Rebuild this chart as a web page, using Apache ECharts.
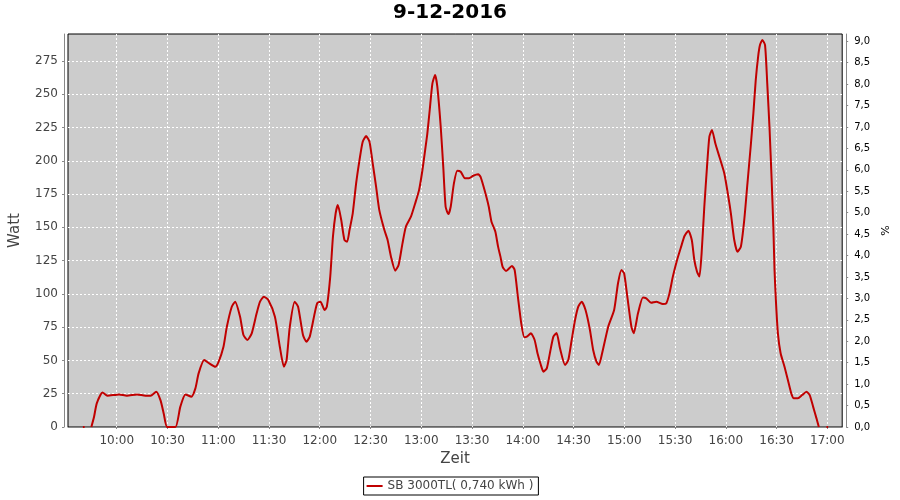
<!DOCTYPE html>
<html>
<head>
<meta charset="utf-8">
<script src="https://cdn.jsdelivr.net/npm/echarts@6/dist/echarts.min.js"></script>
<style>
html,body{margin:0;padding:0;background:#fff;}
#chart{width:900px;height:500px;}
</style>
</head>
<body>
<div id="chart"></div>
<script>
// ---- data ----
const chartTitle = '9-12-2016';
const seriesName = 'SB 3000TL( 0,740 kWh )';
// time of each reading, minutes since midnight
const times = [
  580, 581, 583, 585, 586.6, 588.2, 591.6, 594.5, 601.4, 606, 612, 617, 620, 623.3, 625.9, 627.8, 629.8,
  634.7, 637.6, 640.6, 644.1, 646.5, 648.4, 651.7, 654.7, 658.2, 660.2, 663.1, 665.1, 668, 670,
  672.9, 674.9, 677.2, 679.8, 682.7, 684.7, 687, 689.6, 693.5, 696.4, 698.8, 700.4, 702.3, 705.2,
  707.2, 710.1, 712.1, 714.1, 717, 718.5, 720.4, 722.9, 724.2, 726.2, 727.8, 729.4, 730.7, 732.7,
  734.6, 736.2, 737.6, 739.5, 741.5, 743.5, 745.4, 747.4, 749.4, 751.3, 753.3, 755.2, 758.2, 760.1,
  762.1, 764.6, 766.6, 768.9, 770.9, 773.9, 776.4, 778.7, 780.7, 782.3, 783.6, 785, 786.6, 788.2,
  789.5, 791.5, 793, 794.4, 796, 797.4, 799.3, 801.3, 803.3, 805.8, 808.2, 810.7, 813.6, 815,
  817.4, 819.9, 821.5, 823.8, 825.4, 826.8, 828.1, 830.1, 833.6, 835.2, 837.1, 839.1, 840.9, 842.4,
  844.8, 847, 848.7, 850.7, 852.2, 854.2, 856.2, 858.1, 860, 862, 865, 866.9, 868.9, 870.9,
  872.8, 874.8, 877.1, 879.7, 881.6, 883.6, 885, 886.9, 890.5, 894, 896.3, 898.3, 899.9, 901.8,
  904.2, 905.6, 908.1, 911, 913, 915.9, 918.9, 922.8, 924.8, 926.7, 928.7, 931.2, 933.6, 935.6,
  937.9, 939.9, 941.4, 943, 944.4, 945.7, 947.3, 948.9, 950.3, 951.8, 953.8, 956.2, 959.1, 961.5,
  963, 965, 966.9, 968.9, 970.9, 972.8, 974.7, 976.3, 977.7, 979.1, 980.2, 981.6, 983.2, 984.5,
  985.9, 987.1, 988.1, 988.8, 989.7, 990.8, 992.4, 994.7, 996.7, 998.7, 1000.2, 1002.6, 1005.1, 1007.7,
  1009.6, 1011.6, 1013.6, 1015, 1017, 1019.5, 1020.5
];
// power in Watt (null = no reading)
const watt = [
  0, 0, null, 0, 7.7, 17.8, 26, 23.5, 24.5, 23.5, 24.5, 23.5, 23.5, 26.5, 20, 10, 0,
  0, 15.3, 24.5, 22.8, 29, 40.3, 50.3, 47.8, 45.3, 49, 60.3, 75.4, 90.4, 94.2,
  82.9, 69.1, 65.4, 70.4, 85.4, 94.2, 97.9, 95.4, 82.9, 60.3, 45.3, 50.3, 75.4, 94.2,
  90.4, 69.1, 64.1, 67.9, 85.4, 93, 94.2, 87.9, 90.4, 113, 143, 160.6, 166.8, 155.5,
  140.5, 139.2, 148, 160.6, 183.1, 200.6, 214.4, 218.6, 214.4, 198.1, 180.6, 163, 148, 140.5,
  128, 117.5, 121.7, 138, 150.5, 158, 168, 178, 193.1, 208.1, 220.7, 238.2, 258.2, 264.5,
  255.7, 225.6, 195.6, 165.5, 160, 165.5, 183.1, 192.6, 191.8, 186.9, 186.9, 188.8, 189.9, 188.1,
  178, 165.5, 154.3, 146.7, 135.5, 128, 120.4, 117.2, 121, 118, 97.9, 77.9, 67.4, 67.9,
  70.4, 65.4, 55.4, 46.6, 41.6, 44.1, 56.6, 67.9, 70.6, 59.1, 46.6, 50.3, 65.4, 80.4,
  90.4, 94.2, 87.9, 72.9, 57.9, 49, 46.6, 55.4, 75.4, 87.9, 108, 118, 115.5, 97.9,
  75.4, 70.4, 85.4, 97.4, 96.7, 93.4, 94.2, 92.4, 92.9, 100.4, 113, 125.5, 135.5, 143.5,
  147.5, 140.5, 125.5, 116.7, 113, 130.5, 165.5, 195.6, 218.1, 223.2, 213.2, 203.1, 190.6, 173,
  160.6, 140.5, 131.7, 135.5, 155.5, 183.1, 210.6, 235.7, 260.7, 278.2, 287, 290.8, 287, 258.2,
  223.2, 185.6, 150.5, 118, 92.9, 70.4, 55.4, 45.3, 35.3, 25.3, 21.6, 21.6, 24, 26.5,
  24, 15.3, 6.5, 0, null, 0, 0
];
const xTickLabels = ['10:00','10:30','11:00','11:30','12:00','12:30','13:00','13:30','14:00','14:30','15:00','15:30','16:00','16:30','17:00'];
const wattTicks = [0, 25, 50, 75, 100, 125, 150, 175, 200, 225, 250, 275];
const pctTicks = [0, 0.5, 1, 1.5, 2, 2.5, 3, 3.5, 4, 4.5, 5, 5.5, 6, 6.5, 7, 7.5, 8, 8.5, 9];

// ---- build ----
const toMin = s => { const p = s.split(':'); return (+p[0]) * 60 + (+p[1]); };
const xTicks = xTickLabels.map(toMin);
const pad = (n) => (n < 10 ? '0' : '') + n;
const fmtTime = v => pad(Math.floor(Math.round(v) / 60)) + ':' + pad(Math.round(v) % 60);
const seriesData = times.map((t, i) => [t, watt[i] === null ? '-' : watt[i]]);

const FONT = 'DejaVu Sans';
const chart = echarts.init(document.getElementById('chart'), null, {renderer: 'canvas'});
chart.setOption({
  backgroundColor: '#ffffff',
  animation: false,
  textStyle: {fontFamily: FONT},
  title: {
    text: chartTitle, left: 'center', top: 3, padding: 0,
    textStyle: {fontFamily: FONT, fontSize: 20, fontWeight: 'bold', color: '#000'}
  },
  legend: {
    data: [seriesName], left: 'center', top: 477, padding: [3, 5, 3, 3],
    borderColor: '#000', borderWidth: 1, itemWidth: 16, itemHeight: 14, itemGap: 5,
    icon: 'path://M0,6L16,6L16,8L0,8Z',
    textStyle: {fontFamily: FONT, fontSize: 12, color: '#444'}
  },
  grid: {
    left: 67, right: 55, top: 34, bottom: 73,
    show: true, backgroundColor: '#cccccc', borderColor: '#000', borderWidth: 1
  },
  xAxis: {
    type: 'value', min: 571.2, max: 1028.8, offset: 4,
    name: 'Zeit', nameLocation: 'middle', nameGap: 20,
    nameTextStyle: {fontFamily: FONT, fontSize: 15, color: '#444'},
    axisLine: {show: true, lineStyle: {color: '#888', width: 1}},
    axisTick: {show: true, length: 2, customValues: xTicks, lineStyle: {color: '#888'}},
    axisLabel: {customValues: xTicks, margin: 4, formatter: fmtTime, fontFamily: FONT, fontSize: 12, color: '#444', showMinLabel: true, showMaxLabel: true},
    splitLine: {show: true, lineStyle: {color: '#ffffff', width: 1, type: [2, 2]}}
  },
  yAxis: [{
    type: 'value', min: 0, max: 295.3, position: 'left', offset: 4,
    name: 'Watt', nameLocation: 'middle', nameGap: 41,
    nameTextStyle: {fontFamily: FONT, fontSize: 15, color: '#444'},
    axisLine: {show: true, lineStyle: {color: '#888', width: 1}},
    axisTick: {show: true, length: 2, customValues: wattTicks, lineStyle: {color: '#888'}},
    axisLabel: {customValues: wattTicks, margin: 6, fontFamily: FONT, fontSize: 12, color: '#444'},
    splitLine: {show: true, lineStyle: {color: '#ffffff', width: 1, type: [2, 2]}}
  }, {
    type: 'value', min: 0, max: 9.17, position: 'right', offset: 4,
    name: '%', nameLocation: 'middle', nameGap: 32,
    nameTextStyle: {fontFamily: FONT, fontSize: 11, color: '#000'},
    axisLine: {show: true, lineStyle: {color: '#888', width: 1}},
    axisTick: {show: true, length: 2, customValues: pctTicks, lineStyle: {color: '#888'}},
    axisLabel: {customValues: pctTicks, margin: 8, fontFamily: FONT, fontSize: 10, color: '#000',
      formatter: v => v.toFixed(1).replace('.', ',')},
    splitLine: {show: false}
  }],
  series: [{
    name: seriesName, type: 'line', yAxisIndex: 0, data: seriesData,
    showSymbol: false, symbol: 'none', connectNulls: false, smooth: 0.2,
    lineStyle: {color: '#c00000', width: 2}, itemStyle: {color: '#c00000'}
  }]
});
</script>
</body>
</html>
